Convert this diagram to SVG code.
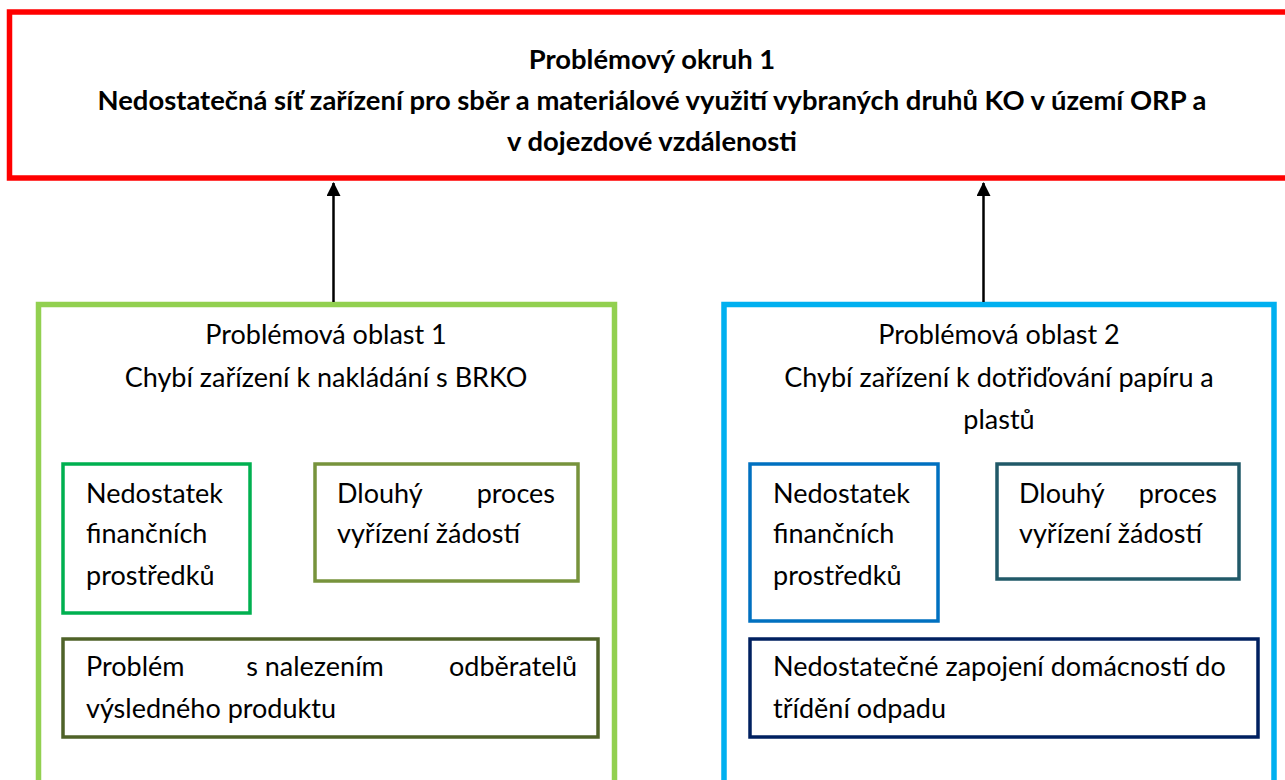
<svg xmlns="http://www.w3.org/2000/svg" width="1285" height="780" viewBox="0 0 1285 780">
<style>
text{font-family:Lato,"Liberation Sans",sans-serif;fill:#000}
.t{font-size:27.4px;font-weight:bold;text-anchor:middle}
.h{font-size:27px;text-anchor:middle}
.b{font-size:27px}
.box{fill:#fff}
.outer{stroke-width:5.5}
.inner{stroke-width:3.5}
</style>
<defs>
<marker id="ah" markerWidth="6" markerHeight="5.6" refX="5.2" refY="2.8" orient="auto" markerUnits="strokeWidth">
<polygon points="0,0 5.6,2.8 0,5.6" fill="#000"/>
</marker>
</defs>
<rect width="1285" height="780" fill="#fff"/>
<g id="problem-okruh">
<rect class="box outer" x="9.5" y="12" width="1290" height="166" stroke="#FF0000"/>
<text class="t" x="652" y="69">Problémový okruh 1</text>
<text class="t" x="652" y="110">Nedostatečná síť zařízení pro sběr a materiálové využití vybraných druhů KO v území ORP a</text>
<text class="t" x="652" y="151">v dojezdové vzdálenosti</text>
</g>
<g id="oblast-1">
<rect class="box outer" x="38.5" y="304.5" width="576" height="500" stroke="#92D050"/>
<text class="h" x="326" y="344">Problémová oblast 1</text>
<text class="h" x="326" y="387">Chybí zařízení k nakládání s BRKO</text>
</g>
<g id="oblast-2">
<rect class="box outer" x="724" y="304.5" width="550" height="500" stroke="#00B0F0"/>
<text class="h" x="999" y="344">Problémová oblast 2</text>
<text class="h" x="999" y="387">Chybí zařízení k dotřiďování papíru a</text>
<text class="h" x="999" y="429">plastů</text>
</g>
<g id="o1-finance">
<rect class="box inner" x="63" y="464" width="187" height="149" stroke="#00B050"/>
<text class="b" x="86" y="503">Nedostatek</text>
<text class="b" x="86" y="543">finančních</text>
<text class="b" x="86" y="585">prostředků</text>
</g>
<g id="o1-proces">
<rect class="box inner" x="315" y="464" width="263" height="117" stroke="#77933C"/>
<text class="b" x="337" y="503">Dlouhý</text>
<text class="b" x="555" y="503" text-anchor="end">proces</text>
<text class="b" x="337" y="543">vyřízení žádostí</text>
</g>
<g id="o1-odberatele">
<rect class="box inner" x="63" y="639" width="535" height="98" stroke="#4F6228"/>
<text class="b" x="86" y="676">Problém</text>
<text class="b" x="315" y="676" text-anchor="middle">s nalezením</text>
<text class="b" x="577" y="676" text-anchor="end">odběratelů</text>
<text class="b" x="86" y="718">výsledného produktu</text>
</g>
<g id="o2-finance">
<rect class="box inner" x="750" y="464" width="188" height="157" stroke="#0070C0"/>
<text class="b" x="773" y="503">Nedostatek</text>
<text class="b" x="773" y="543">finančních</text>
<text class="b" x="773" y="585">prostředků</text>
</g>
<g id="o2-proces">
<rect class="box inner" x="997" y="464" width="242" height="115" stroke="#215968"/>
<text class="b" x="1019" y="503">Dlouhý</text>
<text class="b" x="1217" y="503" text-anchor="end">proces</text>
<text class="b" x="1019" y="543">vyřízení žádostí</text>
</g>
<g id="o2-domacnosti">
<rect class="box inner" x="750" y="639" width="508" height="98" stroke="#002060"/>
<text class="b" x="773" y="676">Nedostatečné zapojení domácností do</text>
<text class="b" x="773" y="718">třídění odpadu</text>
</g>
<g id="connectors" stroke="#000" stroke-width="2.5" fill="none">
<line x1="333.5" y1="302" x2="333.5" y2="183" marker-end="url(#ah)"/>
<line x1="983.5" y1="302" x2="983.5" y2="183" marker-end="url(#ah)"/>
</g>
</svg>
